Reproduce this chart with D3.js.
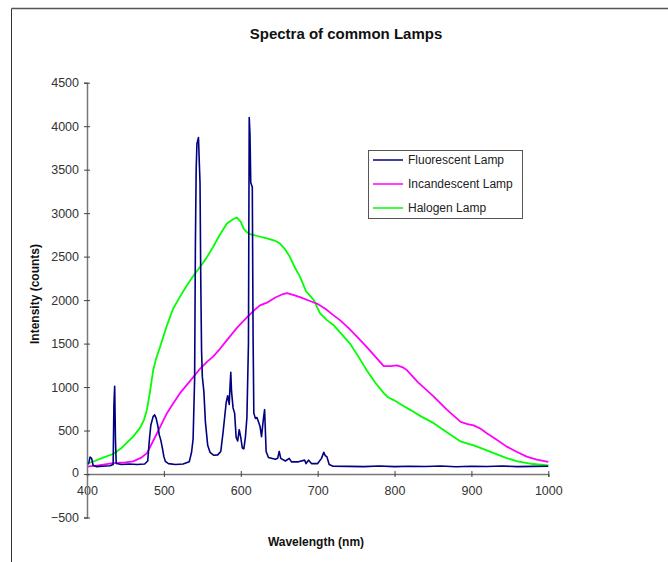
<!DOCTYPE html>
<html>
<head>
<meta charset="utf-8">
<script src="https://cdn.jsdelivr.net/npm/d3@7/dist/d3.min.js"></script>
<style>
  html, body { margin: 0; padding: 0; background: #fff; }
  svg { display: block; }
  text { font-family: "Liberation Sans", Arial, sans-serif; }
</style>
</head>
<body>
<svg id="chart" width="668" height="562"></svg>
<script>
// ---------- DATA ----------
const titleText = "Spectra of common Lamps";
const xLabel = "Wavelength (nm)";
const yLabel = "Intensity (counts)";
const seriesNames = ["Fluorescent Lamp", "Incandescent Lamp", "Halogen Lamp"];
const xTicks = [400, 500, 600, 700, 800, 900, 1000];
const yTicks = [-500, 0, 500, 1000, 1500, 2000, 2500, 3000, 3500, 4000, 4500];

const fluorescentWl = [400,402,404,406,408,412,420,430,434,435,436,437,438,445,455,465,475,479,481,483,486,488,490,492,494,496,498,500,502,506,515,525,533,536,538,540,541,542,543,545,546,547,548,549,550,552,554,557,560,565,570,574,577,579,581,583,585,586,587,588,590,592,594,596,598,600,602,604,606,608,610,611,612,613,615,616,617,619,621,623,625,627,629,631,633,636,645,648,650,652,658,663,666,675,683,685,688,692,700,705,708,710,712,715,720,740,760,780,800,820,840,860,880,900,920,940,960,980,1000];
const fluorescentVal = [110,120,195,180,100,85,90,95,110,800,1010,400,120,110,115,110,115,150,380,560,660,680,640,560,450,390,300,200,145,120,110,115,140,250,400,1100,2650,3500,3800,3870,3600,3350,2200,1420,1120,950,600,330,250,215,220,260,480,650,820,900,800,1000,1170,950,760,700,420,380,510,420,300,290,420,650,1500,4100,3900,3350,3300,1600,700,640,650,600,550,430,600,740,260,190,170,180,260,180,150,180,140,140,160,120,160,120,120,180,250,210,200,110,90,88,85,92,85,90,86,92,84,90,87,92,85,88,90];

const incandescentWl = [400,415,434,450,460,470,478,486,495,504,512,521,535,547,556,564,573,582,595,608,617,625,634,645,655,660,668,677,690,699,710,720,729,740,752,764,775,786,795,803,810,816,830,851,868,886,895,903,912,920,932,946,960,972,985,1000];
const incandescentVal = [84,100,125,135,145,185,240,380,540,700,810,930,1080,1210,1290,1350,1440,1540,1680,1800,1880,1940,1970,2030,2070,2080,2060,2035,1990,1960,1900,1830,1770,1680,1570,1460,1350,1240,1240,1250,1230,1195,1060,890,740,600,575,560,520,470,400,315,250,200,165,140];

const halogenWl = [400,410,420,434,445,460,469,474,478,482,486,490,495,504,512,521,530,540,547,555,564,572,582,590,595,600,604,608,612,620,634,645,651,658,664,670,677,685,695,703,712,721,730,742,753,764,775,786,792,799,810,821,835,851,868,886,895,903,915,929,945,960,980,1000];
const halogenVal = [118,150,185,230,300,430,530,620,740,950,1190,1330,1460,1710,1900,2040,2170,2300,2380,2480,2610,2740,2880,2930,2950,2900,2820,2780,2760,2740,2710,2680,2650,2580,2495,2380,2270,2100,2000,1850,1770,1710,1620,1500,1350,1190,1050,930,880,850,790,735,660,585,480,375,350,330,290,240,185,145,115,100];

const seriesColors = ["#000080", "#ff00ff", "#00ff00"];

// ---------- BUILD ----------
const series = [
  { name: seriesNames[0], color: seriesColors[0], pts: fluorescentWl.map((w,i)=>[w, fluorescentVal[i]]) },
  { name: seriesNames[1], color: seriesColors[1], pts: incandescentWl.map((w,i)=>[w, incandescentVal[i]]) },
  { name: seriesNames[2], color: seriesColors[2], pts: halogenWl.map((w,i)=>[w, halogenVal[i]]) }
];

const svg = d3.select("#chart");
svg.append("rect").attr("width", 668).attr("height", 562).attr("fill", "#fff");

// outer frame (top + left)
svg.append("line").attr("x1", 11.5).attr("x2", 668).attr("y1", 8.5).attr("y2", 8.5)
  .attr("stroke", "#555").attr("stroke-width", 1.5);
svg.append("line").attr("x1", 11.5).attr("x2", 11.5).attr("y1", 8.5).attr("y2", 562)
  .attr("stroke", "#333").attr("stroke-width", 1);

const x = d3.scaleLinear().domain([400, 1000]).range([87, 548.3]);
const y = d3.scaleLinear().domain([-500, 4500]).range([517.5, 82.7]);

// title
svg.append("text").attr("x", 346).attr("y", 38.5).attr("text-anchor", "middle")
  .attr("font-weight", "bold").attr("font-size", 15).attr("fill", "#111").text(titleText);

// lines
const line = d3.line().x(d => x(d[0])).y(d => y(d[1]));
const drawOrder = [2, 1, 0];
drawOrder.forEach(i => {
  svg.append("path").datum(series[i].pts).attr("d", line)
    .attr("fill", "none").attr("stroke", series[i].color)
    .attr("stroke-width", i === 0 ? 1.6 : 1.8).attr("stroke-linejoin", "round");
});

// x axis at y=0
const xAxis = svg.append("g").attr("transform", `translate(0,${y(0)})`)
  .call(d3.axisBottom(x).tickValues(xTicks).tickSize(3).tickPadding(9).tickFormat(d3.format("d")));
xAxis.select(".domain").attr("stroke", "#777").attr("stroke-width", 1.5);
xAxis.selectAll(".tick line").attr("y1", -3).attr("y2", 3).attr("stroke", "#444");
xAxis.selectAll(".tick text").attr("font-size", 12.5).attr("fill", "#333")
  .attr("font-family", "'Liberation Sans', Arial, sans-serif");

// y axis
const yAxis = svg.append("g").attr("transform", `translate(${x(400)},0)`)
  .call(d3.axisLeft(y).tickValues(yTicks).tickSize(3).tickPadding(5).tickFormat(d3.format("d")));
yAxis.select(".domain").attr("stroke", "#777").attr("stroke-width", 1.5);
yAxis.selectAll(".tick line").attr("x1", -3).attr("x2", 3).attr("stroke", "#444");
yAxis.selectAll(".tick text").attr("font-size", 12.5).attr("fill", "#333")
  .attr("font-family", "'Liberation Sans', Arial, sans-serif")
  .filter(d => d === 0).attr("dy", "0.2em");

// axis labels
svg.append("text").attr("x", 316).attr("y", 546).attr("text-anchor", "middle")
  .attr("font-weight", "bold").attr("font-size", 12).attr("fill", "#111").text(xLabel);
svg.append("text").attr("transform", "translate(39,294) rotate(-90)").attr("text-anchor", "middle")
  .attr("font-weight", "bold").attr("font-size", 12).attr("fill", "#111").text(yLabel);

// legend
const lg = svg.append("g");
lg.append("rect").attr("x", 368.5).attr("y", 150.5).attr("width", 154).attr("height", 68)
  .attr("fill", "#fff").attr("stroke", "#555").attr("stroke-width", 1);
const rowsY = [160, 184, 208];
series.forEach((s, i) => {
  lg.append("line").attr("x1", 373).attr("x2", 403).attr("y1", rowsY[i]).attr("y2", rowsY[i])
    .attr("stroke", s.color).attr("stroke-width", 1.5);
  lg.append("text").attr("x", 408).attr("y", rowsY[i]).attr("dy", "0.35em")
    .attr("font-size", 12).attr("fill", "#222").text(s.name);
});
</script>
</body>
</html>
